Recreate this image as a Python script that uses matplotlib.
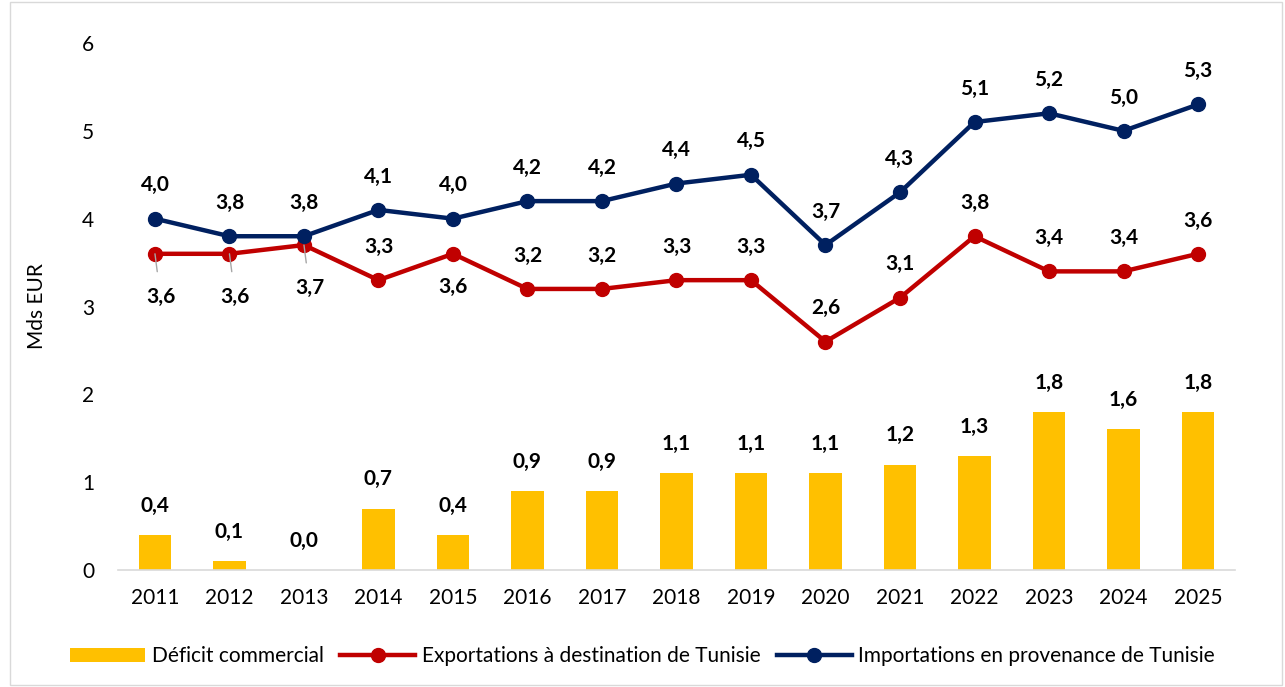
import matplotlib
matplotlib.use("Agg")
import matplotlib.pyplot as plt
from matplotlib.patches import Rectangle

years = ["2011","2012","2013","2014","2015","2016","2017","2018","2019","2020","2021","2022","2023","2024","2025"]
deficit = [0.4,0.1,0.0,0.7,0.4,0.9,0.9,1.1,1.1,1.1,1.2,1.3,1.8,1.6,1.8]
exports = [3.6,3.6,3.7,3.3,3.6,3.2,3.2,3.3,3.3,2.6,3.1,3.8,3.4,3.4,3.6]
imports = [4.0,3.8,3.8,4.1,4.0,4.2,4.2,4.4,4.5,3.7,4.3,5.1,5.2,5.0,5.3]
export_below = [True,True,True,False,True] + [False]*10

plt.rcParams['font.family'] = ['Lato', 'DejaVu Sans']

fig = plt.figure(figsize=(12.85, 6.87), dpi=100)
ax = fig.add_axes([0.0916, 0.1703, 0.8697, 0.7671])

x = list(range(len(years)))
hb = ax.bar(x, deficit, width=0.44, color="#FFC000", label="Déficit commercial", zorder=2)
he, = ax.plot(x, exports, color="#C00000", lw=3.2, marker="o", ms=10, label="Exportations à destination de Tunisie", zorder=3)
hi, = ax.plot(x, imports, color="#002060", lw=3.2, marker="o", ms=10, label="Importations en provenance de Tunisie", zorder=4)

fmt = lambda v: f"{v:.1f}".replace(".", ",")
lab = dict(fontsize=15, fontweight="bold", ha="center", va="center", color="black")
for i, v in enumerate(deficit):
    ax.annotate(fmt(v), (i, v), xytext=(0, 21), textcoords="offset points", **lab)
for i, v in enumerate(imports):
    ax.annotate(fmt(v), (i, v), xytext=(0, 24), textcoords="offset points", **lab)
for i, v in enumerate(exports):
    if export_below[i]:
        if i < 3:
            ax.annotate(fmt(v), (i, v), xytext=(4, -31), textcoords="offset points",
                        arrowprops=dict(arrowstyle="-", color="#A6A6A6", lw=1, shrinkA=9, shrinkB=0), **lab)
        else:
            ax.annotate(fmt(v), (i, v), xytext=(0, -24), textcoords="offset points", **lab)
    else:
        ax.annotate(fmt(v), (i, v), xytext=(0, 24), textcoords="offset points", **lab)

ax.set_xlim(-0.5, len(years) - 0.5)
ax.set_ylim(0, 6)
ax.set_yticks(range(0, 7))
ax.set_xticks(x)
ax.set_xticklabels(years)
ax.tick_params(axis="both", length=0, labelsize=15, colors="black")
ax.tick_params(axis="x", pad=13)
ax.tick_params(axis="y", pad=17)
for s in ["top", "right", "left"]:
    ax.spines[s].set_visible(False)
ax.spines["bottom"].set_color("#D9D9D9")
ax.spines["bottom"].set_linewidth(1.2)
ax.set_ylabel("Mds EUR", fontsize=15)
ax.yaxis.set_label_coords(-0.063, 0.5)

fig.legend(handles=[hb, he, hi], loc="center", bbox_to_anchor=(0.5, 0.045), ncol=3, frameon=False,
           fontsize=15, handlelength=3.6, columnspacing=0.8, handletextpad=0.3)

fig.add_artist(Rectangle((0.008, 0.003), 0.99, 0.994, transform=fig.transFigure,
                         fill=False, edgecolor="#D9D9D9", lw=1))

fig.savefig("out.png", dpi=100)
